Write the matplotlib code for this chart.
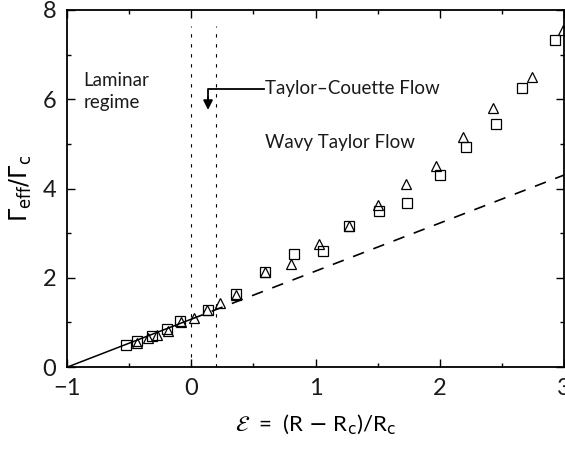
import matplotlib
matplotlib.use("Agg")
import matplotlib.pyplot as plt
import numpy as np

plt.rcParams['font.family'] = ['Lato', 'DejaVu Sans']
plt.rcParams['mathtext.fontset'] = 'dejavusans'

# data
sq_x = [-0.525, -0.436, -0.316, -0.195, -0.088, 0.134, 0.359, 0.59, 0.825,
        1.06, 1.27, 1.51, 1.74, 2.00, 2.21, 2.45, 2.66, 2.93]
sq_y = [0.50, 0.59, 0.695, 0.85, 1.04, 1.29, 1.64, 2.13, 2.53,
        2.59, 3.15, 3.50, 3.68, 4.30, 4.94, 5.44, 6.26, 7.32]
tri_x = [-0.436, -0.348, -0.273, -0.187, -0.08, 0.018, 0.128, 0.233, 0.359,
         0.59, 0.80, 1.03, 1.27, 1.50, 1.73, 1.97, 2.19, 2.43, 2.74, 2.99]
tri_y = [0.53, 0.65, 0.71, 0.82, 1.02, 1.10, 1.29, 1.43, 1.61,
         2.14, 2.32, 2.75, 3.15, 3.62, 4.10, 4.51, 5.15, 5.81, 6.50, 7.56]
slope = 1.075
eps_onset = [0.0, 0.2]

fig = plt.figure(figsize=(5.65, 4.51), dpi=100)
ax = fig.add_axes([0.119, 0.186, 0.879, 0.792])

xs = np.array([-1.0, 0.0])
ax.plot(xs, slope * (xs + 1), color='black', lw=1.1)
xd = np.array([0.0, 3.0])
ax.plot(xd, slope * (xd + 1), color='black', lw=1.2, dashes=(7, 6))

for e in eps_onset:
    ax.plot([e, e], [0, 7.65], color='black', lw=0.8, dashes=(3, 6))

ax.plot(sq_x, sq_y, 's', mfc='none', mec='black', ms=7, mew=0.9)
ax.plot(tri_x, tri_y, '^', mfc='none', mec='black', ms=7, mew=0.9)

tfont = dict(fontsize=13.5, color='#1a1a1a')
ax.text(-0.87, 6.6, 'Laminar\nregime', va='top', ha='left', linespacing=1.35, **tfont)
ax.text(0.59, 6.23, 'Taylor\u2013Couette Flow', va='center', ha='left', **tfont)
ax.text(0.59, 5.02, 'Wavy Taylor Flow', va='center', ha='left', **tfont)

ax.plot([0.586, 0.134, 0.134], [6.23, 6.23, 6.0], color='black', lw=1.3)
ax.annotate('', xy=(0.134, 5.76), xytext=(0.134, 6.05),
            arrowprops=dict(arrowstyle='-|>', color='black', lw=1.3,
                            mutation_scale=14, shrinkA=0, shrinkB=0))

ax.set_xlim(-1, 3)
ax.set_ylim(0, 8)
ax.set_xticks([-1, 0, 1, 2, 3])
ax.set_xticklabels(['\u22121', '0', '1', '2', '3'])
ax.set_yticks([0, 2, 4, 6, 8])
ax.set_xticks(np.arange(-1, 3.01, 0.5), minor=True)
ax.set_yticks(np.arange(0, 8.01, 1), minor=True)
ax.tick_params(which='both', direction='in', top=True, right=True,
               labelsize=17, pad=8, width=1, labelcolor='#1a1a1a')
ax.tick_params(which='major', length=6)
ax.tick_params(which='minor', length=3)
for s in ax.spines.values():
    s.set_linewidth(1.3)

ax.set_xlabel(r'$\mathcal{E}$  =  (R $-$ R$_\mathrm{c}$)/R$_\mathrm{c}$', fontsize=16, labelpad=10)
ax.set_ylabel(r'$\Gamma_\mathrm{eff}/\Gamma_\mathrm{c}$', fontsize=17, labelpad=6)

fig.savefig('out.png', dpi=100)
